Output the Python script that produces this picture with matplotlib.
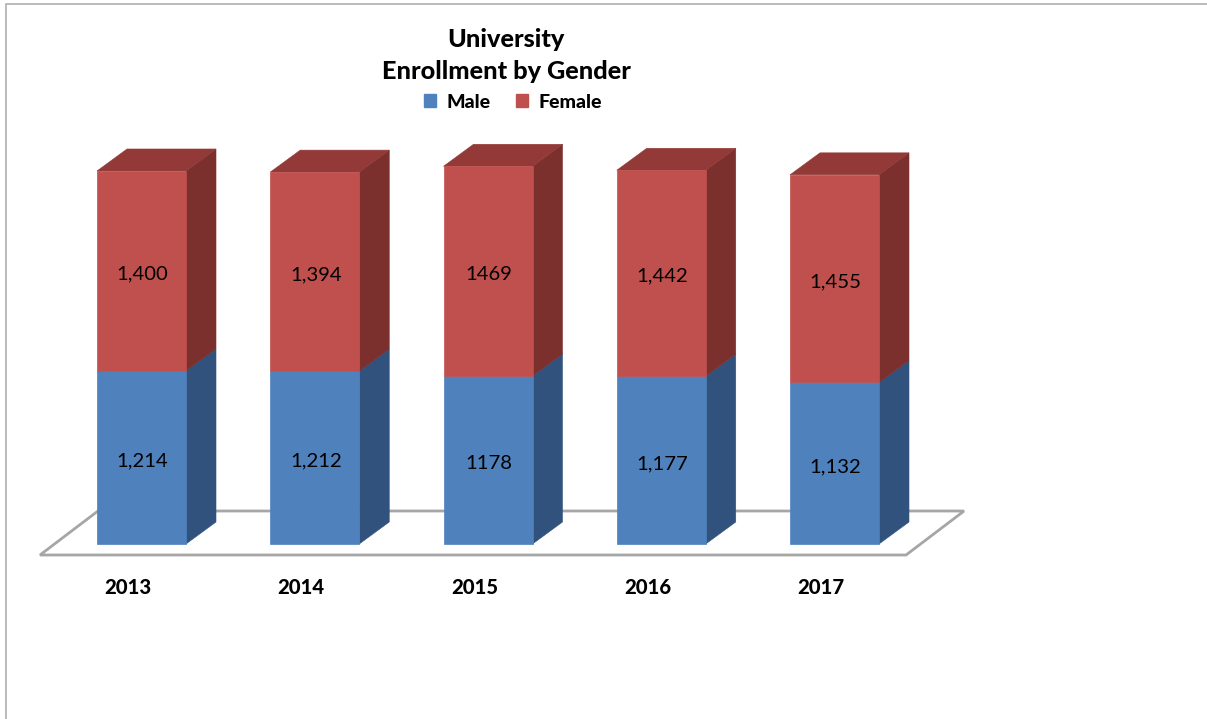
import matplotlib
matplotlib.use("Agg")
import matplotlib.pyplot as plt
from matplotlib.patches import Polygon, Patch, Rectangle

plt.rcParams['font.family'] = ['Lato', 'DejaVu Sans']

years = ['2013', '2014', '2015', '2016', '2017']
male = [1214, 1212, 1178, 1177, 1132]
female = [1400, 1394, 1469, 1442, 1455]
male_labels = ['1,214', '1,212', '1178', '1,177', '1,132']
female_labels = ['1,400', '1,394', '1469', '1,442', '1,455']

blue = '#4F81BD'
blue_side = '#31527C'
red = '#C0504D'
red_side = '#7C302D'
red_top = '#933A38'
grey = '#A6A6A6'

# pixel scale of the picture
W, H = 1207, 719
px_x = 173.25      # pixels per category
px_y = 0.1427      # pixels per student
x0_px = 141.5      # centre of first bar
y0_px = 544.0      # baseline

bar_w = 89 / px_x
dx = 30 / px_x     # depth of the 3d look
dy = 22 / px_y

fig = plt.figure(figsize=(W / 100, H / 100), dpi=100)
ax = fig.add_axes([0, 0, 1, 1])
ax.set_xlim(-x0_px / px_x, (W - x0_px) / px_x)
ax.set_ylim(-(H - y0_px) / px_y, y0_px / px_y)
ax.axis('off')

# outer frame, only top and left show
ax.add_patch(Rectangle((6 / W, -0.1), 1.1, (H - 4) / H + 0.1, transform=ax.transAxes,
                       fill=False, ec='#B5B5B5', lw=1.3, zorder=0))

# floor
n = len(years)
fl = -0.586
fr = n - 1 + 0.413
fy = -11 / px_y
back = 44 / px_y
slant = 58 / px_x
ax.add_patch(Polygon([(fl, fy), (fr, fy), (fr + slant, fy + back), (fl + slant, fy + back)],
                     closed=True, fc='white', ec=grey, lw=2, zorder=1))

# bars
pos = list(range(n))
b1 = ax.bar(pos, male, width=bar_w, color=blue, ec=blue, lw=0.5, zorder=3, label='Male')
b2 = ax.bar(pos, female, width=bar_w, bottom=male, color=red, ec=red, lw=0.5, zorder=3, label='Female')

for i in pos:
    r = i + bar_w / 2
    l = i - bar_w / 2
    m = male[i]
    t = male[i] + female[i]
    ax.add_patch(Polygon([(r, 0), (r + dx, dy), (r + dx, m + dy), (r, m)], closed=True,
                         fc=blue_side, ec=blue_side, lw=0.4, zorder=2))
    ax.add_patch(Polygon([(r, m), (r + dx, m + dy), (r + dx, t + dy), (r, t)], closed=True,
                         fc=red_side, ec=red_side, lw=0.4, zorder=2))
    ax.add_patch(Polygon([(l, t), (r, t), (r + dx, t + dy), (l + dx, t + dy)], closed=True,
                         fc=red_top, ec=red_top, lw=0.4, zorder=2))
    ax.text(i + 1 / px_x, m / 2 - 26, male_labels[i], ha='center', va='center', fontsize=14.6, color='black', zorder=5)
    ax.text(i + 1 / px_x, m + female[i] / 2 - 22, female_labels[i], ha='center', va='center', fontsize=14.6, color='black', zorder=5)
    ax.text(i - 13.5 / px_x, -43 / px_y, years[i], ha='center', va='center', fontsize=14.6,
            fontweight=900, color='black')

fig.text(506 / W, 1 - 55.5 / H, 'University\nEnrollment by Gender', ha='center', va='center',
         fontsize=18.2, fontweight=900, linespacing=1.5)

ax.legend(handles=[Patch(color=blue, label='Male'), Patch(color=red, label='Female')],
          ncol=2, frameon=False, loc='center', bbox_to_anchor=(513 / W, 1 - 102 / H),
          prop={'size': 14, 'weight': 900}, handlelength=0.62, handleheight=0.62,
          handletextpad=0.55, columnspacing=1.3)

fig.savefig('out.png', dpi=100)
